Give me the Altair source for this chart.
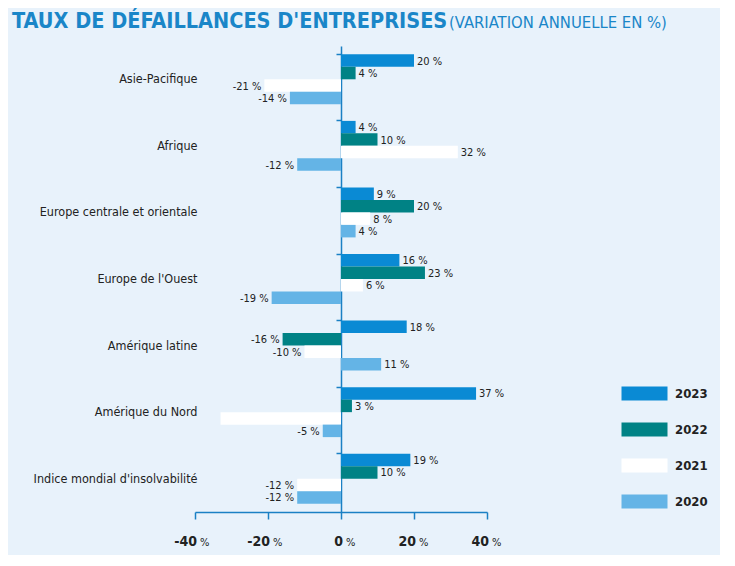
import altair as alt
import pandas as pd

regions = ["Asie-Pacifique", "Afrique", "Europe centrale et orientale", "Europe de l'Ouest",
           "Amérique latine", "Amérique du Nord", "Indice mondial d'insolvabilité"]
years = ["2023", "2022", "2021", "2020"]
v2023 = [20, 4, 9, 16, 18, 37, 19]
v2022 = [4, 10, 20, 23, -16, 3, 10]
v2021 = [-21, 32, 8, 6, -10, -33, -12]
v2020 = [-14, -12, 4, -19, 11, -5, -12]
show_2021 = [True, True, True, True, True, False, True]
tick_values = [-40, -20, 0, 20, 40]
colors = ["#0a8ad4", "#008285", "#ffffff", "#64b4e6"]

FONT = "DejaVu Sans Condensed, sans-serif"
BLUE = "#1a80c4"

rows = []
for i, r in enumerate(regions):
    for y, vals in zip(years, [v2023, v2022, v2021, v2020]):
        show = show_2021[i] if y == "2021" else True
        rows.append({"region": r, "year": y, "value": vals[i],
                     "label": f"{vals[i]} %" if show else ""})
df = pd.DataFrame(rows)
ticks_df = pd.DataFrame({"v": tick_values, "num": [str(t) for t in tick_values], "pct": ["%"] * 5})

H = 466
W = 292

x_scale = alt.Scale(domain=[-40, 40], nice=False, zero=False)
y_enc = alt.Y("region:N", sort=regions, title=None,
              scale=alt.Scale(paddingInner=0.25, paddingOuter=0.125),
              axis=alt.Axis(offset=-146, domainColor=BLUE, domainWidth=1.5, tickColor=BLUE,
                            tickWidth=1.5, tickSize=5, bandPosition=0, labelPadding=139,
                            labelFont=FONT, labelFontSize=12.5, labelColor="#222222",
                            labelAlign="right", labelLimit=0, grid=False))
yoff = alt.YOffset("year:N", sort=years, scale=alt.Scale(paddingInner=0, paddingOuter=0))

bars = alt.Chart(df).mark_bar(size=12.5).encode(
    x=alt.X("value:Q", scale=x_scale, title=None,
            axis=alt.Axis(values=tick_values, labels=False, domainColor=BLUE, domainWidth=1.5,
                          tickColor=BLUE, tickWidth=1.5, tickSize=7, grid=False)),
    y=y_enc,
    yOffset=yoff,
    color=alt.Color("year:N", sort=years,
                    scale=alt.Scale(domain=years, range=colors),
                    legend=alt.Legend(title=None, orient="none", legendX=438, legendY=336,
                                      symbolType="M-2,-0.6H2V0.6H-2Z", symbolSize=529,
                                      symbolStrokeWidth=0, symbolOpacity=1,
                                      labelFont=FONT, labelFontSize=13, labelFontWeight="bold",
                                      labelColor="#222222", labelOffset=19, rowPadding=17,
                                      padding=0)),
)

txt_pos = alt.Chart(df).transform_filter("datum.value >= 0").mark_text(
    align="left", baseline="middle", dx=3, dy=1, font=FONT, fontSize=11, color="#222222"
).encode(x=alt.X("value:Q", scale=x_scale), y=alt.Y("region:N", sort=regions), yOffset=yoff,
         text="label:N")

txt_neg = alt.Chart(df).transform_filter("datum.value < 0").mark_text(
    align="right", baseline="middle", dx=-3, dy=1, font=FONT, fontSize=11, color="#222222"
).encode(x=alt.X("value:Q", scale=x_scale), y=alt.Y("region:N", sort=regions), yOffset=yoff,
         text="label:N")

tick_num = alt.Chart(ticks_df).mark_text(
    align="right", baseline="middle", dx=2, font=FONT, fontSize=14, fontWeight="bold", color="#222222"
).encode(x=alt.X("v:Q", scale=x_scale), y=alt.value(H + 30), text="num:N")

tick_pct = alt.Chart(ticks_df).mark_text(
    align="left", baseline="middle", dx=5, dy=1, font=FONT, fontSize=11, color="#222222"
).encode(x=alt.X("v:Q", scale=x_scale), y=alt.value(H + 30), text="pct:N")

title_df = pd.DataFrame({"t1": ["TAUX DE DÉFAILLANCES D'ENTREPRISES"],
                         "t2": ["(VARIATION ANNUELLE EN %)"]})
title_bold = alt.Chart(title_df).mark_text(
    align="left", baseline="middle", font=FONT, fontSize=21.5, fontWeight="bold", color="#1a86c8"
).encode(x=alt.value(-183), y=alt.value(-24), text="t1:N")
title_reg = alt.Chart(title_df).mark_text(
    align="left", baseline="middle", font=FONT, fontSize=16.5, color="#1a86c8"
).encode(x=alt.value(254), y=alt.value(-23), text="t2:N")

chart = alt.layer(bars, txt_pos, txt_neg, tick_num, tick_pct, title_bold, title_reg).properties(
    width=W, height=H,
    padding={"left": 4, "top": 3, "right": 12, "bottom": 6},
    background="#e8f2fb",
).configure_view(stroke=None)

chart.save("out.html", embed_options={"renderer": "svg", "actions": False})
